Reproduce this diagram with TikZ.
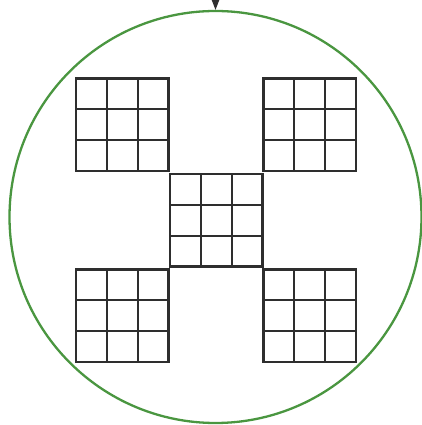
\documentclass[tikz,border=0pt]{standalone}
\usetikzlibrary{arrows.meta}
\definecolor{ringgreen}{HTML}{4A9640}
\definecolor{gridgray}{HTML}{2E2E2E}
\tikzset{
  ringstyle/.style={circle, draw=ringgreen, line width=2.3pt, minimum size=412pt, inner sep=0pt},
  gridline/.style={draw=gridgray, line width=2.3pt},
  pics/cellgrid/.style={code={
    \draw[gridline] (0,0) rectangle (92.5,92.5);
    \foreach \k in {1,2}{
      \draw[gridline] ({\k*92.5/3},0) -- ({\k*92.5/3},92.5);
      \draw[gridline] (0,{\k*92.5/3}) -- (92.5,{\k*92.5/3});
    }
  }}
}
\begin{document}
\begin{tikzpicture}[x=1pt,y=1pt]
\useasboundingbox (0,0) rectangle (422,425);
\node[ringstyle] (ring) at (215.5,208) {};
\coordinate (src) at (215.5,432);
\draw[gridgray, line width=1pt, -{Triangle[width=9pt,length=12pt]}] (src) -- (ring.north);
% grids (lower-left corners, y up)
\pic at (76,254) {cellgrid};
\pic at (263.5,254) {cellgrid};
\pic at (170,158.5) {cellgrid};
\pic at (76,63) {cellgrid};
\pic at (263.5,63) {cellgrid};
\end{tikzpicture}
\end{document}
